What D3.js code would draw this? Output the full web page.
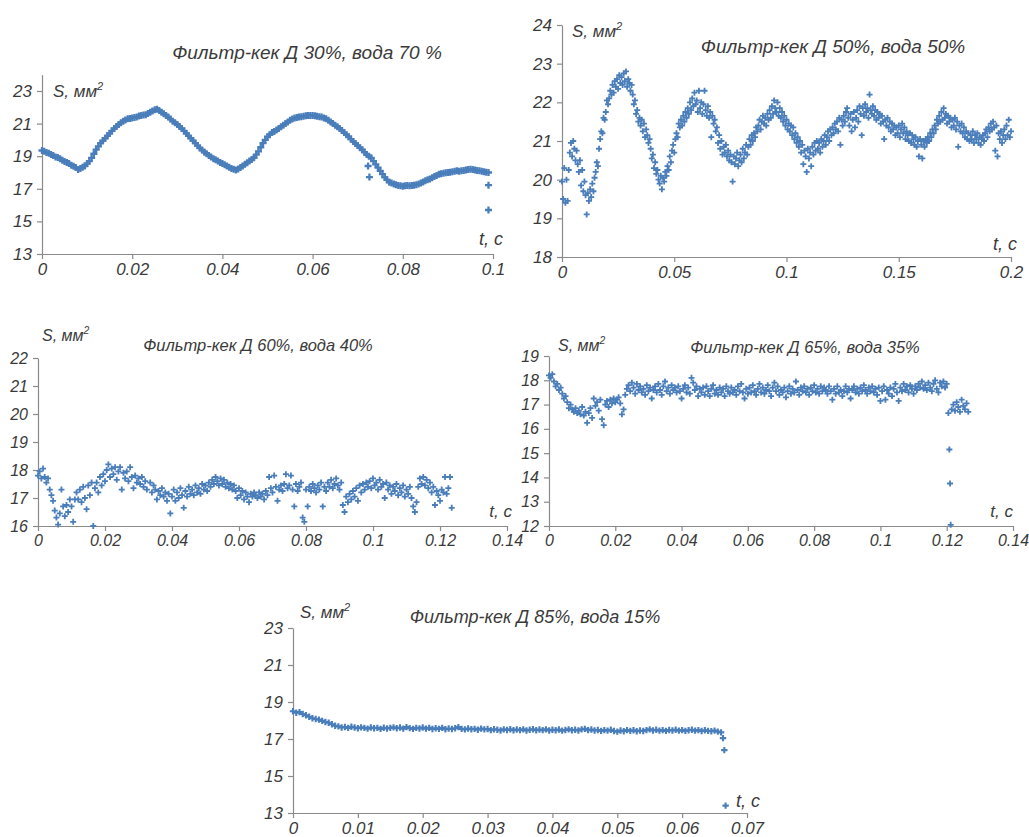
<!DOCTYPE html>
<html><head><meta charset="utf-8">
<script src="https://cdn.jsdelivr.net/npm/d3@7"></script>
<style>
body{margin:0;background:#fff;}
svg text{font-family:"Liberation Sans",Arial,sans-serif;font-style:italic;fill:#3a3a3a;}
</style></head><body>
<svg id="c" width="1029" height="837"></svg>
<script>
// ---------- titles ----------
const titles = ["Фильтр-кек Д 30%, вода 70 %","Фильтр-кек Д 50%, вода 50%","Фильтр-кек Д 60%, вода 40%","Фильтр-кек Д 65%, вода 35%","Фильтр-кек Д 85%, вода 15%"];
const yLabel = "S, мм";
const xLabel = "t, c";

// ---------- tick values ----------
const xTicks1 = [0,0.02,0.04,0.06,0.08,0.1];
const yTicks1 = [13,15,17,19,21,23];
const xTicks2 = [0,0.05,0.1,0.15,0.2];
const yTicks2 = [18,19,20,21,22,23,24];
const xTicks3 = [0,0.02,0.04,0.06,0.08,0.1,0.12,0.14];
const yTicks3 = [16,17,18,19,20,21,22];
const xTicks4 = [0,0.02,0.04,0.06,0.08,0.1,0.12,0.14];
const yTicks4 = [12,13,14,15,16,17,18,19];
const xTicks5 = [0,0.01,0.02,0.03,0.04,0.05,0.06,0.07];
const yTicks5 = [13,15,17,19,21,23];

// ---------- data: [t, S] ----------
const d30 = [[0,19.35],[0.0005,19.3],[0.001,19.22],[0.0015,19.18],[0.002,19.1],[0.0025,19.05],[0.003,18.95],[0.0035,18.92],[0.004,18.85],[0.0045,18.75],[0.005,18.68],[0.0055,18.62],[0.006,18.55],[0.0065,18.45],[0.007,18.38],[0.0075,18.3],[0.008,18.18],[0.0085,18.25],[0.009,18.32],[0.0095,18.4],[0.01,18.55],[0.0105,18.7],[0.011,18.9],[0.0115,19.15],[0.012,19.4],[0.0125,19.6],[0.013,19.8],[0.0135,19.95],[0.014,20.1],[0.0145,20.25],[0.015,20.4],[0.0155,20.55],[0.016,20.7],[0.0165,20.82],[0.017,20.95],[0.0175,21.05],[0.018,21.15],[0.0185,21.22],[0.019,21.3],[0.0195,21.32],[0.02,21.35],[0.0205,21.38],[0.021,21.4],[0.0215,21.46],[0.022,21.5],[0.0225,21.52],[0.023,21.55],[0.0235,21.62],[0.024,21.7],[0.0245,21.78],[0.025,21.85],[0.0255,21.88],[0.026,21.8],[0.0265,21.7],[0.027,21.6],[0.0275,21.5],[0.028,21.4],[0.0285,21.28],[0.029,21.15],[0.0295,21.05],[0.03,20.95],[0.0305,20.82],[0.031,20.7],[0.0315,20.55],[0.032,20.4],[0.0325,20.25],[0.033,20.1],[0.0335,19.95],[0.034,19.8],[0.0345,19.65],[0.035,19.5],[0.0355,19.38],[0.036,19.25],[0.0365,19.15],[0.037,19.05],[0.0375,18.95],[0.038,18.85],[0.0385,18.78],[0.039,18.7],[0.0395,18.62],[0.04,18.55],[0.0405,18.48],[0.041,18.4],[0.0415,18.32],[0.042,18.25],[0.0425,18.2],[0.043,18.15],[0.0435,18.22],[0.044,18.3],[0.0445,18.4],[0.045,18.5],[0.0455,18.6],[0.046,18.7],[0.0465,18.8],[0.047,18.9],[0.0475,19.1],[0.048,19.3],[0.0485,19.55],[0.049,19.8],[0.0495,20],[0.05,20.2],[0.0505,20.32],[0.051,20.45],[0.0515,20.52],[0.052,20.6],[0.0525,20.7],[0.053,20.8],[0.0535,20.9],[0.054,21],[0.0545,21.1],[0.055,21.2],[0.0555,21.28],[0.056,21.35],[0.0565,21.38],[0.057,21.4],[0.0575,21.42],[0.058,21.45],[0.0585,21.48],[0.059,21.5],[0.0595,21.5],[0.06,21.5],[0.0605,21.48],[0.061,21.45],[0.0615,21.42],[0.062,21.4],[0.0625,21.35],[0.063,21.3],[0.0635,21.2],[0.064,21.1],[0.0645,21],[0.065,20.9],[0.0655,20.8],[0.066,20.7],[0.0665,20.58],[0.067,20.45],[0.0675,20.32],[0.068,20.2],[0.0685,20.05],[0.069,19.9],[0.0695,19.78],[0.07,19.65],[0.0705,19.52],[0.071,19.4],[0.0715,19.25],[0.072,19.1],[0.0725,19],[0.073,18.9],[0.0735,18.7],[0.074,18.5],[0.0745,18.3],[0.075,18.1],[0.0755,17.9],[0.076,17.7],[0.0765,17.55],[0.077,17.4],[0.0775,17.35],[0.078,17.3],[0.0785,17.25],[0.079,17.2],[0.0795,17.18],[0.08,17.15],[0.0805,17.18],[0.081,17.2],[0.0815,17.18],[0.082,17.2],[0.0825,17.22],[0.083,17.25],[0.0835,17.3],[0.084,17.35],[0.0845,17.42],[0.085,17.5],[0.0855,17.55],[0.086,17.6],[0.0865,17.68],[0.087,17.75],[0.0875,17.82],[0.088,17.9],[0.0885,17.92],[0.089,17.95],[0.0895,17.98],[0.09,18],[0.0905,18.02],[0.091,18.05],[0.0915,18.08],[0.092,18.1],[0.0925,18.08],[0.093,18.1],[0.0935,18.12],[0.094,18.15],[0.0945,18.18],[0.095,18.2],[0.0955,18.18],[0.096,18.15],[0.0965,18.12],[0.097,18.1],[0.0975,18.08],[0.098,18.05],[0.0985,18.02],[0.099,18],[0.0723,18.4],[0.0726,17.72],[0.099,17.22],[0.099,15.7]];

const d50 = [[0,19.95],[0.0005,19.5],[0.001,20.3],[0.0015,19.4],[0.002,20],[0.0025,19.45],[0.003,20.25],[0.0035,20.7],[0.004,20.95],[0.0045,20.6],[0.005,21],[0.0055,20.8],[0.006,20.5],[0.0065,20.75],[0.007,20.4],[0.0075,20.2],[0.008,20.5],[0.0085,19.85],[0.009,20.25],[0.0095,19.7],[0.01,19.95],[0.0105,19.6],[0.011,19.1],[0.0115,19.65],[0.012,19.45],[0.0125,19.75],[0.013,19.55],[0.0135,19.9],[0.014,19.7],[0.0145,20.05],[0.015,20.2],[0.0155,20.45],[0.016,20.35],[0.0165,20.8],[0.017,21.05],[0.0175,21.25],[0.018,21.2],[0.0185,21.6],[0.019,21.55],[0.0195,21.75],[0.02,22.05],[0.0205,21.95],[0.021,22.1],[0.0215,22.3],[0.022,22.2],[0.0225,22.45],[0.023,22.25],[0.0235,22.55],[0.024,22.4],[0.0245,22.6],[0.025,22.35],[0.0255,22.7],[0.026,22.5],[0.0265,22.65],[0.027,22.45],[0.0275,22.75],[0.028,22.55],[0.0285,22.8],[0.029,22.4],[0.0295,22.6],[0.03,22.5],[0.0305,22.3],[0.031,22.45],[0.0315,22.2],[0.032,21.95],[0.0325,22.05],[0.033,21.7],[0.0335,21.8],[0.034,21.5],[0.0345,21.6],[0.035,21.4],[0.0355,21.55],[0.036,21.25],[0.0365,21.45],[0.037,21.1],[0.0375,21.3],[0.038,21.15],[0.0385,20.95],[0.039,21.05],[0.0395,20.8],[0.04,20.55],[0.0405,20.65],[0.041,20.3],[0.0415,20.45],[0.042,20.15],[0.0425,20.25],[0.043,20],[0.0435,19.9],[0.044,20.1],[0.0445,19.75],[0.045,20.05],[0.0455,19.95],[0.046,20.2],[0.0465,20.1],[0.047,20.35],[0.0475,20.25],[0.048,20.6],[0.0485,20.45],[0.049,20.75],[0.0495,20.9],[0.05,20.7],[0.0505,21.05],[0.051,21.2],[0.0515,21.1],[0.052,21.45],[0.0525,21.35],[0.053,21.55],[0.0535,21.4],[0.054,21.65],[0.0545,21.5],[0.055,21.75],[0.0555,21.6],[0.056,21.85],[0.0565,21.7],[0.057,22],[0.0575,21.8],[0.058,22.1],[0.0585,21.9],[0.059,22.25],[0.0595,21.95],[0.06,22.05],[0.0605,21.75],[0.061,22.3],[0.0615,21.85],[0.062,22],[0.0625,21.7],[0.063,21.95],[0.0635,22.3],[0.064,21.8],[0.0645,21.65],[0.065,21.9],[0.0655,21.6],[0.066,21.75],[0.0665,21.1],[0.067,21.65],[0.0675,21.45],[0.068,21.55],[0.0685,21.25],[0.069,21.35],[0.0695,20.95],[0.07,21.15],[0.0705,20.8],[0.071,21],[0.0715,20.65],[0.072,20.85],[0.0725,20.7],[0.073,20.9],[0.0735,20.6],[0.074,20.75],[0.0745,20.5],[0.075,20.65],[0.0755,20.45],[0.076,19.95],[0.0765,20.6],[0.077,20.4],[0.0775,20.55],[0.078,20.7],[0.0785,20.35],[0.079,20.5],[0.0795,20.65],[0.08,20.45],[0.0805,20.8],[0.081,20.55],[0.0815,20.7],[0.082,20.9],[0.0825,20.65],[0.083,20.85],[0.0835,21.05],[0.084,20.9],[0.0845,21.15],[0.085,21],[0.0855,21.2],[0.086,21.1],[0.0865,21.35],[0.087,21.25],[0.0875,21.4],[0.088,21.55],[0.0885,21.3],[0.089,21.5],[0.0895,21.65],[0.09,21.45],[0.0905,21.6],[0.091,21.4],[0.0915,21.7],[0.092,21.55],[0.0925,21.8],[0.093,21.6],[0.0935,21.9],[0.094,21.7],[0.0945,22.05],[0.095,21.85],[0.0955,21.75],[0.096,22],[0.0965,21.65],[0.097,21.85],[0.0975,21.6],[0.098,21.75],[0.0985,21.5],[0.099,21.65],[0.0995,21.4],[0.1,21.55],[0.1005,21.3],[0.101,21.45],[0.1015,21.25],[0.102,21.4],[0.1025,21.15],[0.103,21.35],[0.1035,21.05],[0.104,21.2],[0.1045,20.95],[0.105,21.1],[0.1055,20.85],[0.106,21],[0.1065,20.7],[0.107,20.9],[0.1075,20.4],[0.108,20.75],[0.1085,20.6],[0.109,20.2],[0.1095,20.8],[0.11,20.55],[0.1105,20.7],[0.111,20.35],[0.1115,20.85],[0.112,20.65],[0.1125,20.95],[0.113,20.75],[0.1135,21],[0.114,20.8],[0.1145,20.95],[0.115,20.7],[0.1155,21.05],[0.116,20.85],[0.1165,21],[0.117,21.15],[0.1175,20.9],[0.118,21.1],[0.1185,21.25],[0.119,21],[0.1195,21.3],[0.12,21.15],[0.1205,21.35],[0.121,21.2],[0.1215,21.45],[0.122,21.3],[0.1225,21.5],[0.123,21.25],[0.1235,21.6],[0.124,20.9],[0.1245,21.55],[0.125,21.4],[0.1255,21.65],[0.126,21.5],[0.1265,21.75],[0.127,21.85],[0.1275,21.6],[0.128,21.4],[0.1285,21.7],[0.129,21.25],[0.1295,21.55],[0.13,21.75],[0.1305,21.35],[0.131,21.6],[0.1315,21.8],[0.132,21.5],[0.1325,21.9],[0.133,21.7],[0.1335,21.15],[0.134,21.85],[0.1345,21.65],[0.135,21.95],[0.1355,21.75],[0.136,21.85],[0.1365,21.6],[0.137,22.2],[0.1375,21.8],[0.138,21.7],[0.1385,21.9],[0.139,21.65],[0.1395,21.8],[0.14,21.55],[0.1405,21.75],[0.141,21.6],[0.1415,21.7],[0.142,21.45],[0.1425,21.65],[0.143,21.5],[0.1435,21.05],[0.144,21.55],[0.1445,21.4],[0.145,21.6],[0.1455,21.35],[0.146,21.5],[0.1465,21.25],[0.147,21.45],[0.1475,21.3],[0.148,21.4],[0.1485,21.15],[0.149,21.35],[0.1495,21.2],[0.15,21.4],[0.1505,21.1],[0.151,21.3],[0.1515,21.45],[0.152,21.2],[0.1525,21.35],[0.153,21.05],[0.1535,21.25],[0.154,21.15],[0.1545,21],[0.155,21.2],[0.1555,20.95],[0.156,21.15],[0.1565,21.05],[0.157,20.9],[0.1575,21.1],[0.158,20.85],[0.1585,21],[0.159,20.6],[0.1595,21.05],[0.16,20.9],[0.1605,20.55],[0.161,21],[0.1615,20.85],[0.162,21.05],[0.1625,20.95],[0.163,21.1],[0.1635,21],[0.164,21.2],[0.1645,21.1],[0.165,21.3],[0.1655,21.2],[0.166,21.4],[0.1665,21.3],[0.167,21.55],[0.1675,21.45],[0.168,21.65],[0.1685,21.5],[0.169,21.75],[0.1695,21.55],[0.17,21.85],[0.1705,21.6],[0.171,21.7],[0.1715,21.45],[0.172,21.65],[0.1725,21.5],[0.173,21.6],[0.1735,21.35],[0.174,21.55],[0.1745,21.4],[0.175,21.6],[0.1755,21.3],[0.176,21.5],[0.1765,20.85],[0.177,21.4],[0.1775,21.25],[0.178,21.45],[0.1785,21.2],[0.179,21.35],[0.1795,21.1],[0.18,21.25],[0.1805,21.05],[0.181,21.2],[0.1815,21],[0.182,21.15],[0.1825,21.05],[0.183,21.25],[0.1835,20.95],[0.184,21.15],[0.1845,21.05],[0.185,21.2],[0.1855,20.95],[0.186,21.1],[0.1865,20.9],[0.187,21.05],[0.1875,21.15],[0.188,21],[0.1885,21.2],[0.189,21.3],[0.1895,21.1],[0.19,21.35],[0.1905,21.25],[0.191,21.45],[0.1915,21.3],[0.192,21.5],[0.1925,21.35],[0.193,20.75],[0.1935,21.4],[0.194,20.6],[0.1945,21.2],[0.195,21.05],[0.1955,21.25],[0.196,20.95],[0.1965,21.15],[0.197,21.3],[0.1975,21.05],[0.198,21.4],[0.1985,21.15],[0.199,21.55],[0.1995,21.1],[0.2,21.25]];

const d60 = [[0,17.8],[0.0005,17.95],[0.001,17.7],[0.0015,18.05],[0.002,17.75],[0.0025,17.55],[0.003,17.7],[0.0035,17.3],[0.004,17.1],[0.0045,16.9],[0.005,16.55],[0.0055,16.3],[0.006,16.05],[0.0065,16.45],[0.007,17.3],[0.0075,16.7],[0.008,16.35],[0.0085,16.75],[0.009,16.5],[0.0095,16.95],[0.01,16.7],[0.0105,16.15],[0.011,16.95],[0.0115,17.2],[0.012,16.95],[0.0125,17.3],[0.013,16.85],[0.0135,17.4],[0.014,17],[0.0145,16.6],[0.015,17.45],[0.0155,17.1],[0.016,17.55],[0.0165,16],[0.017,17.35],[0.0175,17.55],[0.018,17.2],[0.0185,17.75],[0.019,17.45],[0.0195,17.85],[0.02,17.6],[0.0205,18],[0.021,18.2],[0.0215,17.75],[0.022,18.05],[0.0225,17.85],[0.023,18.1],[0.0235,17.65],[0.024,17.95],[0.0245,18.1],[0.025,17.3],[0.0255,17.9],[0.026,17.7],[0.0265,17.95],[0.027,17.6],[0.0275,18.1],[0.028,17.75],[0.0285,17.35],[0.029,17.8],[0.0295,17.55],[0.03,17.7],[0.0305,17.5],[0.031,17.75],[0.0315,17.4],[0.032,17.6],[0.0325,17.3],[0.0335,17.55],[0.034,17.2],[0.0345,17.45],[0.035,17.3],[0.0355,16.95],[0.036,17.25],[0.0365,17.1],[0.037,17.35],[0.0375,17.05],[0.038,17.2],[0.0385,16.9],[0.039,17.15],[0.0395,16.45],[0.04,17.05],[0.0405,17.3],[0.041,16.9],[0.0415,17.2],[0.042,17],[0.0425,17.35],[0.043,17.1],[0.0435,16.65],[0.044,17.25],[0.0445,17.05],[0.045,17.4],[0.0455,17.15],[0.046,17.3],[0.0465,17.1],[0.047,17.45],[0.0475,17.2],[0.048,17.35],[0.0485,17.15],[0.049,17.5],[0.0495,17.3],[0.05,17.45],[0.0505,17.25],[0.051,17.55],[0.0515,17.4],[0.052,17.65],[0.0525,17.5],[0.053,17.75],[0.0535,17.6],[0.054,17.45],[0.0545,17.7],[0.055,17.5],[0.0555,17.65],[0.056,17.4],[0.0565,17.55],[0.057,17.35],[0.0575,17.5],[0.058,17.3],[0.0585,17.45],[0.059,17.25],[0.0595,17],[0.06,17.35],[0.0605,17.1],[0.061,17.25],[0.0615,16.95],[0.062,17.2],[0.0625,17.05],[0.063,16.85],[0.0635,17.15],[0.064,17.05],[0.0645,17.2],[0.065,17.1],[0.0655,17],[0.066,17.2],[0.0665,17.05],[0.067,17.15],[0.0675,16.95],[0.068,17.25],[0.0685,17.1],[0.069,17.75],[0.0695,17.35],[0.07,17.2],[0.0705,17.8],[0.071,17.4],[0.0715,16.9],[0.072,17.3],[0.0725,17.45],[0.073,17.25],[0.0735,17.5],[0.074,17.85],[0.0745,17.35],[0.075,17.45],[0.0755,17.8],[0.076,17.3],[0.0765,16.7],[0.077,17.5],[0.0775,17.25],[0.078,17.4],[0.0785,17.55],[0.079,16.3],[0.0795,16.15],[0.08,17.3],[0.0805,16.7],[0.081,17.4],[0.0815,17.25],[0.082,17.5],[0.0825,17.35],[0.083,17.2],[0.0835,17.45],[0.084,17.3],[0.0845,17.55],[0.085,16.7],[0.0855,17.4],[0.086,17.25],[0.0865,17.55],[0.087,17.4],[0.0875,17.65],[0.088,17.35],[0.0885,17.5],[0.089,17.7],[0.0895,17.45],[0.09,17.3],[0.0905,17.55],[0.091,16.75],[0.0915,16.5],[0.092,17.05],[0.0925,16.85],[0.093,17.15],[0.0935,16.95],[0.094,17.25],[0.0945,17.05],[0.095,17.35],[0.0955,16.9],[0.096,17.45],[0.0965,17.2],[0.097,17.5],[0.0975,17.3],[0.098,17.55],[0.0985,17.4],[0.099,17.6],[0.0995,17.35],[0.1,17.7],[0.1005,17.45],[0.101,17.55],[0.1015,17.3],[0.102,17.65],[0.1025,17.4],[0.103,17.5],[0.1035,17],[0.104,17.55],[0.1045,17.3],[0.105,17.45],[0.1055,17.15],[0.106,17.4],[0.1065,17.25],[0.107,17.5],[0.1075,17.1],[0.108,17.35],[0.1085,17.2],[0.109,17.45],[0.1095,17.05],[0.11,17.3],[0.1105,17.15],[0.111,17.4],[0.1115,17],[0.112,16.7],[0.1125,16.5],[0.113,16.85],[0.1135,17.4],[0.114,17.7],[0.1145,17.5],[0.115,17.75],[0.1155,17.45],[0.116,17.65],[0.1165,17.35],[0.117,17.55],[0.1175,17.2],[0.118,17.4],[0.1185,16.75],[0.119,17.25],[0.1195,17.1],[0.12,16.9],[0.1205,17.3],[0.121,17.2],[0.1215,17.75],[0.122,17.15],[0.1225,17.35],[0.123,17.75],[0.1235,16.65]];

const d65 = [[0,18.2],[0.0005,18.1],[0.001,18.25],[0.0015,17.95],[0.002,17.75],[0.0025,17.85],[0.003,17.6],[0.0035,17.7],[0.004,17.45],[0.0045,17.25],[0.005,17.35],[0.0055,17.1],[0.006,16.85],[0.0065,17],[0.007,16.8],[0.0075,16.7],[0.008,16.85],[0.0085,16.65],[0.009,16.75],[0.0095,16.6],[0.01,16.9],[0.0105,16.55],[0.011,16.7],[0.0115,16.25],[0.012,16.65],[0.0125,16.85],[0.013,16.45],[0.0135,17.25],[0.014,16.95],[0.0145,17.1],[0.015,16.75],[0.0155,17.2],[0.016,16.4],[0.0165,16.15],[0.017,17],[0.0175,17.15],[0.018,16.9],[0.0185,17.2],[0.019,17.05],[0.0195,17.25],[0.02,17.1],[0.0205,17.2],[0.021,17.3],[0.0215,17.05],[0.022,16.6],[0.0225,16.8],[0.023,17.4],[0.0235,17.65],[0.024,17.8],[0.0245,17.55],[0.025,17.9],[0.0255,17.7],[0.026,17.45],[0.0265,17.85],[0.027,17.6],[0.0275,17.75],[0.028,17.5],[0.0285,17.65],[0.029,17.4],[0.0295,17.8],[0.03,17.55],[0.0305,17.7],[0.031,17.25],[0.0315,17.6],[0.032,17.75],[0.0325,17.5],[0.033,17.85],[0.0335,17.6],[0.034,17.4],[0.0345,17.75],[0.035,17.95],[0.0355,17.55],[0.036,17.7],[0.0365,17.45],[0.037,17.8],[0.0375,17.6],[0.038,17.7],[0.0385,17.5],[0.039,17.75],[0.0395,17.55],[0.04,17.25],[0.0405,17.65],[0.041,17.8],[0.0415,17.5],[0.042,17.7],[0.0425,17.45],[0.043,18.1],[0.0435,17.9],[0.044,17.6],[0.0445,17.75],[0.045,17.35],[0.0455,17.65],[0.046,17.5],[0.0465,17.7],[0.047,17.4],[0.0475,17.75],[0.048,17.55],[0.0485,17.35],[0.049,17.65],[0.0495,17.8],[0.05,17.45],[0.0505,17.6],[0.051,17.4],[0.0515,17.7],[0.052,17.5],[0.0525,17.65],[0.053,17.35],[0.0535,17.75],[0.054,17.55],[0.0545,17.45],[0.055,17.7],[0.0555,17.5],[0.056,17.6],[0.0565,17.4],[0.057,17.75],[0.0575,17.55],[0.058,17.85],[0.0585,17.5],[0.059,17.25],[0.0595,17.65],[0.06,17.45],[0.0605,17.7],[0.061,17.5],[0.0615,17.8],[0.062,17.55],[0.0625,17.4],[0.063,17.65],[0.0635,17.85],[0.064,17.5],[0.0645,17.7],[0.065,17.45],[0.0655,17.6],[0.066,17.8],[0.0665,17.55],[0.067,17.35],[0.0675,17.7],[0.068,17.9],[0.0685,17.55],[0.069,17.75],[0.0695,17.4],[0.07,17.6],[0.0705,17.5],[0.071,17.7],[0.0715,17.3],[0.072,17.55],[0.0725,17.75],[0.073,17.45],[0.0735,17.65],[0.074,17.5],[0.0745,17.95],[0.075,17.6],[0.0755,17.4],[0.076,17.7],[0.0765,17.55],[0.077,17.75],[0.0775,17.5],[0.078,17.65],[0.0785,17.4],[0.079,17.7],[0.0795,17.55],[0.08,17.8],[0.0805,17.5],[0.081,17.65],[0.0815,17.45],[0.082,17.75],[0.0825,17.55],[0.083,17.7],[0.0835,17.6],[0.084,17.45],[0.0845,17.75],[0.085,17.55],[0.0855,17.2],[0.086,17.65],[0.0865,17.45],[0.087,17.75],[0.0875,17.5],[0.088,17.6],[0.0885,17.35],[0.089,17.55],[0.0895,17.75],[0.09,17.5],[0.0905,17.65],[0.091,17.25],[0.0915,17.6],[0.092,17.75],[0.0925,17.5],[0.093,17.65],[0.0935,17.45],[0.094,17.7],[0.0945,17.55],[0.095,17.8],[0.0955,17.6],[0.096,17.45],[0.0965,17.7],[0.097,17.55],[0.0975,17.75],[0.098,17.5],[0.0985,17.65],[0.099,17.4],[0.0995,17.7],[0.1,17.15],[0.1005,17.55],[0.101,17.75],[0.1015,17.2],[0.102,17.6],[0.1025,17.45],[0.103,17.7],[0.1035,17.35],[0.104,17.65],[0.1045,17.85],[0.105,17.5],[0.1055,17.15],[0.106,17.7],[0.1065,17.55],[0.107,17.85],[0.1075,17.6],[0.108,17.75],[0.1085,17.5],[0.109,17.8],[0.1095,17.65],[0.11,17.45],[0.1105,17.75],[0.111,17.6],[0.1115,17.85],[0.112,17.7],[0.1125,17.95],[0.113,17.65],[0.1135,17.8],[0.114,17.6],[0.1145,17.9],[0.115,17.7],[0.1155,17.55],[0.116,17.85],[0.1165,18],[0.117,17.65],[0.1175,17.5],[0.118,17.9],[0.1185,17.75],[0.119,17.95],[0.1195,17.7],[0.12,17.85],[0.1205,16.65],[0.1208,15.15],[0.121,13.75],[0.1212,12.05],[0.1215,16.8],[0.122,17],[0.1225,16.75],[0.123,17.1],[0.1235,16.9],[0.124,16.7],[0.1245,17.2],[0.125,16.95],[0.1255,16.8],[0.126,17.05],[0.1265,16.7]];

const d85 = [[0,18.5],[0.0005,18.42],[0.001,18.45],[0.0015,18.35],[0.002,18.28],[0.0025,18.2],[0.003,18.12],[0.0035,18.08],[0.004,18.05],[0.0045,17.98],[0.005,17.92],[0.0055,17.88],[0.006,17.8],[0.0065,17.72],[0.007,17.68],[0.0075,17.62],[0.008,17.65],[0.0085,17.6],[0.009,17.66],[0.0095,17.62],[0.01,17.58],[0.0105,17.63],[0.011,17.6],[0.0115,17.56],[0.012,17.62],[0.0125,17.58],[0.013,17.6],[0.0135,17.55],[0.014,17.61],[0.0145,17.57],[0.015,17.6],[0.0155,17.63],[0.016,17.58],[0.0165,17.62],[0.017,17.56],[0.0175,17.64],[0.018,17.59],[0.0185,17.55],[0.019,17.6],[0.0195,17.57],[0.02,17.62],[0.0205,17.56],[0.021,17.6],[0.0215,17.54],[0.022,17.58],[0.0225,17.55],[0.023,17.6],[0.0235,17.53],[0.024,17.57],[0.0245,17.54],[0.025,17.58],[0.0255,17.64],[0.026,17.55],[0.0265,17.52],[0.027,17.57],[0.0275,17.53],[0.028,17.55],[0.0285,17.5],[0.029,17.56],[0.0295,17.52],[0.03,17.54],[0.0305,17.48],[0.031,17.53],[0.0315,17.5],[0.032,17.46],[0.0325,17.52],[0.033,17.49],[0.0335,17.53],[0.034,17.47],[0.0345,17.51],[0.035,17.48],[0.0355,17.52],[0.036,17.46],[0.0365,17.5],[0.037,17.53],[0.0375,17.47],[0.038,17.51],[0.0385,17.48],[0.039,17.52],[0.0395,17.46],[0.04,17.5],[0.0405,17.47],[0.041,17.51],[0.0415,17.45],[0.042,17.49],[0.0425,17.52],[0.043,17.47],[0.0435,17.5],[0.044,17.46],[0.0445,17.52],[0.045,17.55],[0.0455,17.48],[0.046,17.51],[0.0465,17.46],[0.047,17.49],[0.0475,17.44],[0.048,17.48],[0.0485,17.45],[0.049,17.5],[0.0495,17.43],[0.05,17.4],[0.0505,17.46],[0.051,17.42],[0.0515,17.48],[0.052,17.44],[0.0525,17.47],[0.053,17.42],[0.0535,17.46],[0.054,17.43],[0.0545,17.48],[0.055,17.52],[0.0555,17.46],[0.056,17.5],[0.0565,17.45],[0.057,17.48],[0.0575,17.44],[0.058,17.49],[0.0585,17.46],[0.059,17.5],[0.0595,17.45],[0.06,17.48],[0.0605,17.44],[0.061,17.47],[0.0615,17.5],[0.062,17.45],[0.0625,17.48],[0.063,17.43],[0.0635,17.47],[0.064,17.44],[0.0645,17.42],[0.065,17.45],[0.0655,17.4],[0.066,17.36],[0.0663,17.05],[0.0665,16.4],[0.0667,13.4]];

// ---------- drawing ----------
const svg = d3.select("#c");
const AXIS = "#8a8a8a", MARK = "#4a7ebb";
const fmt = d => String(+d.toFixed(3));

const panels = [
  {data:d30, title:titles[0], xd:[0,0.1], yd:[13,24], xt:xTicks1, yt:yTicks1, x0:42, x1:493, yb:254, yt0:74.7,
   tx:307, ty:59, tfs:19, sx:53, sy:97, lx:503, ly:245, fs:17, m:3.5, mw:2.3},
  {data:d50, title:titles[1], xd:[0,0.2], yd:[18,24], xt:xTicks2, yt:yTicks2, x0:562, x1:1011, yb:257, yt0:25,
   tx:833, ty:53, tfs:19, sx:572, sy:37, lx:1017, ly:250, fs:17, m:3, mw:1.8},
  {data:d60, title:titles[2], xd:[0,0.14], yd:[16,22], xt:xTicks3, yt:yTicks3, x0:38, x1:507, yb:526, yt0:358,
   tx:258, ty:351, tfs:16.5, sx:42, sy:341, lx:512, ly:517, fs:16, m:3, mw:1.8},
  {data:d65, title:titles[3], xd:[0,0.14], yd:[12,19], xt:xTicks4, yt:yTicks4, x0:549, x1:1013, yb:526, yt0:356,
   tx:805, ty:353, tfs:16.5, sx:558, sy:351, lx:1013, ly:517, fs:16, m:3, mw:1.8},
  {data:d85, title:titles[4], xd:[0,0.07], yd:[13,23], xt:xTicks5, yt:yTicks5, x0:293, x1:747, yb:813, yt0:628,
   tx:535, ty:623, tfs:18, sx:300, sy:618, lx:760, ly:807, fs:17, m:3.2, mw:2.1}
];

panels.forEach(p => {
  const g = svg.append("g");
  const x = d3.scaleLinear().domain(p.xd).range([p.x0, p.x1]);
  const y = d3.scaleLinear().domain(p.yd).range([p.yb, p.yt0]);

  const xa = g.append("g").attr("transform", `translate(0,${p.yb})`)
    .call(d3.axisBottom(x).tickValues(p.xt).tickFormat(fmt).tickSize(5).tickSizeOuter(0).tickPadding(4));
  const ya = g.append("g").attr("transform", `translate(${p.x0},0)`)
    .call(d3.axisLeft(y).tickValues(p.yt).tickFormat(fmt).tickSize(5).tickSizeOuter(0).tickPadding(5));
  [xa, ya].forEach(a => {
    a.selectAll("path,line").attr("stroke", AXIS).attr("stroke-width", 1.2);
    a.selectAll("text").attr("font-size", p.fs).attr("fill", "#3a3a3a")
      .attr("font-family", '"Liberation Sans",Arial,sans-serif').attr("font-style", "italic");
  });

  const m = p.m;
  g.append("g").selectAll("path").data(p.data).join("path")
    .attr("transform", d => `translate(${x(d[0])},${y(d[1])})`)
    .attr("d", `M${-m},0H${m}M0,${-m}V${m}`)
    .attr("stroke", MARK).attr("stroke-width", p.mw).attr("fill", "none");

  g.append("text").attr("x", p.tx).attr("y", p.ty).attr("text-anchor", "middle")
    .attr("font-size", p.tfs).text(p.title);

  const sl = g.append("text").attr("x", p.sx).attr("y", p.sy).attr("font-size", p.fs);
  sl.append("tspan").text(yLabel);
  sl.append("tspan").attr("dy", -7).attr("font-size", p.fs * 0.65).text("2");

  g.append("text").attr("x", p.lx).attr("y", p.ly).attr("text-anchor", "end")
    .attr("font-size", p.fs + 1).text(xLabel);
});
</script>
</body></html>
